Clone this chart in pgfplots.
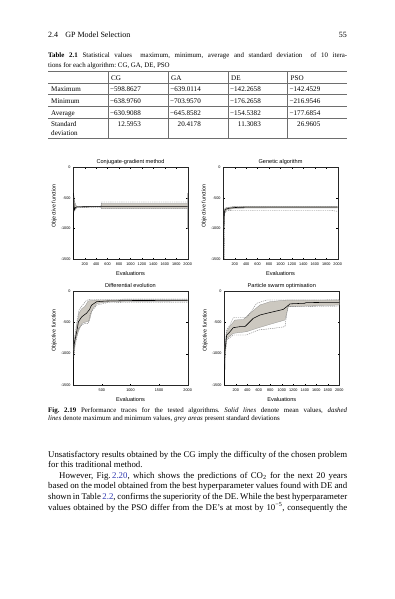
\documentclass[border=0pt]{standalone}
\usepackage{pgfplots}
\pgfplotsset{compat=1.18}
\usepgfplotslibrary{fillbetween}
\usepackage{fontspec}
\setmainfont{Liberation Serif}
\newfontfamily\plotfont{Liberation Sans}
\definecolor{linkblue}{RGB}{45,55,175}
\definecolor{bandgray}{RGB}{204,200,192}
\definecolor{rulegray}{RGB}{110,110,110}

\tikzset{
  meanl/.style={black, line width=0.55pt},
  maxl/.style={black!55, dash pattern=on 1.3pt off 0.9pt, line width=0.35pt},
  bandedge/.style={black!45, line width=0.25pt},
}
\pgfplotsset{mplot/.style={
  scale only axis, width=114.4pt, height=92pt, anchor=south west,
  xmin=0, xmax=2000, ymin=-1500, ymax=0,
  ytick={-1500,-1000,-500,0},
  tick align=inside, xtick pos=both, ytick pos=both,
  major tick length=1.4pt,
  tick style={line width=0.3pt, black},
  axis line style={line width=0.4pt, black!85},
  tick label style={font=\plotfont\fontsize{3.8}{4}\selectfont},
  /pgf/number format/assume math mode=true,
  /pgf/number format/set thousands separator={},
  xticklabel style={inner sep=0pt, yshift=-3.2pt},
  yticklabel style={inner sep=0pt, xshift=-2.6pt},
  title style={font=\plotfont\fontsize{5.6}{6}\selectfont, at={(axis description cs:0.5,1)}, anchor=base, yshift=-2.2pt},
  xlabel={Evaluations}, ylabel={Objective function},
  xlabel style={font=\plotfont\fontsize{5.6}{6}\selectfont, at={(axis description cs:0.5,0)}, anchor=center, yshift=-14.5pt},
  ylabel style={font=\plotfont\fontsize{5.4}{6}\selectfont, at={(axis description cs:-0.166,0.58)}, anchor=center},
  no marks,
}}

\begin{document}
\frenchspacing
\begin{tikzpicture}[x=1pt,y=1pt]
\path (0pt,0pt) rectangle (395pt,-599pt);

% running head
\node[anchor=base west, inner sep=0, font=\fontsize{8}{9.6}\selectfont] at (48pt,-37.5pt) {2.4\hspace{0.9em}GP Model Selection};
\node[anchor=base east, inner sep=0, font=\fontsize{8}{9.6}\selectfont] at (347pt,-37.5pt) {55};

% table caption
\node[anchor=base west, inner sep=0, font=\fontsize{6.9}{8}\selectfont] at (48pt,-58pt) {\makebox[299pt][s]{\textbf{Table 2.1}\hspace{0.7em}Statistical values\hspace{1.2em}maximum, minimum, average and standard deviation\hspace{1.2em}of 10 itera-}};
\node[anchor=base west, inner sep=0, font=\fontsize{6.9}{8}\selectfont] at (48pt,-67.5pt) {tions for each algorithm: CG, GA, DE, PSO};

% table rules
\foreach \yy in {71.2,83,94.7,106.7,118,138}{
  \draw[rulegray, line width=0.55pt] (48pt,-\yy pt) -- (347pt,-\yy pt);
}
\foreach \xx in {108,168,228,287.5}{
  \draw[rulegray, line width=0.55pt] (\xx pt,-71.2pt) -- (\xx pt,-138pt);
}
\begin{scope}[every node/.style={inner sep=0, font=\fontsize{7.1}{8.5}\selectfont}]
\node[anchor=base west] at (111pt,-80.5pt) {CG};
\node[anchor=base west] at (171pt,-80.5pt) {GA};
\node[anchor=base west] at (231pt,-80.5pt) {DE};
\node[anchor=base west] at (290.5pt,-80.5pt) {PSO};
\node[anchor=base west] at (51pt,-92pt) {Maximum};
\node[anchor=base west] at (51pt,-103.7pt) {Minimum};
\node[anchor=base west] at (51pt,-115pt) {Average};
\node[anchor=base west] at (51pt,-127pt) {Standard};
\node[anchor=base west] at (51pt,-135.5pt) {deviation};
% values
\node[anchor=base east] at (141pt,-92pt) {−598.8627};
\node[anchor=base east] at (201pt,-92pt) {−639.0114};
\node[anchor=base east] at (261pt,-92pt) {−142.2658};
\node[anchor=base east] at (320.5pt,-92pt) {−142.4529};
\node[anchor=base east] at (141pt,-103.7pt) {−638.9760};
\node[anchor=base east] at (201pt,-103.7pt) {−703.9570};
\node[anchor=base east] at (261pt,-103.7pt) {−176.2658};
\node[anchor=base east] at (320.5pt,-103.7pt) {−216.9546};
\node[anchor=base east] at (141pt,-115pt) {−630.9088};
\node[anchor=base east] at (201pt,-115pt) {−645.8582};
\node[anchor=base east] at (261pt,-115pt) {−154.5382};
\node[anchor=base east] at (320.5pt,-115pt) {−177.6854};
\node[anchor=base east] at (141pt,-127pt) {12.5953};
\node[anchor=base east] at (201pt,-127pt) {20.4178};
\node[anchor=base east] at (261pt,-127pt) {11.3083};
\node[anchor=base east] at (320.5pt,-127pt) {26.9605};
\end{scope}

% ---------------- Plot 1: CG
\begin{axis}[mplot, at={(73.3pt,-259.3pt)}, title={Conjugate-gradient method}, xtick={200,400,...,2000}]
\addplot[draw=none, name path=u] coordinates {(6,-480) (20,-560) (40,-620) (60,-638) (485,-640) (490,-587) (2000,-587)};
\addplot[draw=none, name path=l] coordinates {(6,-720) (20,-700) (40,-675) (60,-650) (485,-646) (490,-668) (2000,-668)};
\addplot[bandgray] fill between[of=u and l];
\addplot[bandedge] coordinates {(6,-480) (20,-560) (40,-620) (60,-638) (485,-640) (490,-587) (2000,-587)};
\addplot[bandedge] coordinates {(6,-720) (20,-700) (40,-675) (60,-650) (485,-646) (490,-668) (2000,-668)};
\addplot[maxl] coordinates {(6,-470) (20,-545) (40,-610) (60,-636) (485,-638) (490,-566) (2000,-566)};
\addplot[maxl] coordinates {(8,-740) (20,-712) (40,-685) (60,-655) (485,-650) (490,-676) (2000,-676)};
\addplot[black!40, line width=0.6pt] coordinates {(2000,-420) (2000,-1000)};
\addplot[meanl] coordinates {(0,-1500) (4,-1500) (6,-420) (12,-600) (20,-690) (35,-660) (60,-645) (200,-643) (490,-642) (2000,-642)};
\end{axis}

% ---------------- Plot 2: GA
\begin{axis}[mplot, at={(223.3pt,-259.3pt)}, title={Genetic algorithm}, xtick={200,400,...,2000}]
\addplot[draw=none, name path=u] coordinates {(12,-850) (18,-700) (30,-670) (50,-660) (100,-652) (200,-640) (400,-638) (2000,-636)};
\addplot[draw=none, name path=l] coordinates {(12,-1000) (18,-780) (30,-730) (50,-700) (100,-685) (200,-672) (400,-664) (2000,-662)};
\addplot[bandgray] fill between[of=u and l];
\addplot[bandedge] coordinates {(12,-850) (18,-700) (30,-670) (50,-660) (100,-652) (200,-640) (400,-638) (2000,-636)};
\addplot[bandedge] coordinates {(12,-1000) (18,-780) (30,-730) (50,-700) (100,-685) (200,-672) (400,-664) (2000,-662)};
\addplot[maxl] coordinates {(12,-800) (20,-690) (40,-665) (100,-650) (200,-640) (2000,-638)};
\addplot[maxl] coordinates {(15,-1500) (25,-760) (40,-720) (80,-706) (200,-705) (1900,-705) (2000,-718)};
\addplot[meanl] coordinates {(0,-1500) (8,-1500) (12,-900) (18,-740) (30,-700) (50,-680) (100,-668) (200,-656) (400,-650) (2000,-648)};
\end{axis}

% ---------------- Plot 3: DE
\begin{axis}[mplot, at={(73.3pt,-385pt)}, height=94pt, title={Differential evolution}, xtick={500,1000,1500,2000}]
\addplot[draw=none, name path=u] coordinates {(5,-950) (30,-720) (60,-560) (100,-350) (150,-280) (200,-250) (260,-160) (320,-150) (410,-145) (1000,-140) (2000,-140)};
\addplot[draw=none, name path=l] coordinates {(5,-1050) (30,-830) (60,-720) (100,-620) (150,-520) (200,-500) (280,-480) (330,-300) (410,-200) (600,-175) (1000,-165) (2000,-160)};
\addplot[bandgray] fill between[of=u and l];
\addplot[bandedge] coordinates {(5,-950) (30,-720) (60,-560) (100,-350) (150,-280) (200,-250) (260,-160) (320,-150) (410,-145) (1000,-140) (2000,-140)};
\addplot[bandedge] coordinates {(5,-1050) (30,-830) (60,-720) (100,-620) (150,-520) (200,-500) (280,-480) (330,-300) (410,-200) (600,-175) (1000,-165) (2000,-160)};
\addplot[maxl] coordinates {(5,-900) (30,-700) (60,-500) (100,-300) (150,-240) (230,-150) (300,-132) (1000,-130) (2000,-130)};
\addplot[maxl] coordinates {(5,-1100) (30,-880) (60,-750) (90,-600) (150,-540) (200,-520) (260,-520) (300,-350) (410,-225) (600,-185) (1000,-178) (2000,-178)};
\addplot[meanl] coordinates {(0,-1500) (3,-1500) (5,-1000) (15,-850) (30,-780) (60,-650) (90,-490) (150,-410) (230,-356) (280,-300) (320,-225) (410,-170) (580,-160) (1000,-152) (2000,-150)};
\end{axis}

% ---------------- Plot 4: PSO
\begin{axis}[mplot, at={(224.3pt,-385pt)}, width=115pt, height=94pt, title={Particle swarm optimisation}, xtick={200,400,...,2000}]
\addplot[draw=none, name path=u] coordinates {(10,-900) (41,-650) (99,-560) (186,-463) (330,-455) (446,-356) (620,-223) (794,-170) (1084,-144) (2000,-144)};
\addplot[draw=none, name path=l] coordinates {(10,-1050) (41,-760) (157,-676) (388,-649) (562,-596) (794,-532) (1055,-463) (1113,-250) (2000,-223)};
\addplot[bandgray] fill between[of=u and l];
\addplot[bandedge] coordinates {(10,-900) (41,-650) (99,-560) (186,-463) (330,-455) (446,-356) (620,-223) (794,-170) (1084,-144) (2000,-144)};
\addplot[bandedge] coordinates {(10,-1050) (41,-760) (157,-676) (388,-649) (562,-596) (794,-532) (1055,-463) (1113,-250) (2000,-223)};
\addplot[maxl] coordinates {(10,-850) (41,-620) (99,-543) (157,-426) (388,-426) (446,-356) (562,-197) (736,-144) (2000,-142)};
\addplot[maxl] coordinates {(10,-1100) (41,-782) (157,-702) (388,-702) (591,-622) (852,-596) (1055,-569) (1096,-303) (1113,-250) (2000,-240)};
\addplot[meanl] coordinates {(0,-1500) (5,-1500) (10,-970) (41,-702) (99,-649) (157,-585) (272,-569) (359,-569) (417,-516) (504,-436) (620,-383) (736,-356) (910,-319) (1026,-293) (1100,-240) (1140,-205) (1400,-195) (1420,-185) (2000,-180)};
\end{axis}

% figure caption
\node[anchor=base west, inner sep=0, font=\fontsize{6.9}{8}\selectfont] at (48pt,-412pt) {\makebox[299pt][s]{\textbf{Fig. 2.19}\hspace{0.7em}Performance traces for the tested algorithms. \textit{Solid lines} denote mean values, \textit{dashed}}};
\node[anchor=base west, inner sep=0, font=\fontsize{6.9}{8}\selectfont] at (48pt,-420.5pt) {\textit{lines} denote maximum and minimum values, \textit{grey areas} present standard deviations};

% body text
\begin{scope}[every node/.style={anchor=base west, inner sep=0, font=\fontsize{8.8}{10.6}\selectfont}]
\node at (48pt,-457pt) {\makebox[299pt][s]{Unsatisfactory results obtained by the CG imply the difficulty of the chosen problem}};
\node at (48pt,-467.6pt) {for this traditional method.};
\node at (48pt,-478.2pt) {\makebox[299pt][s]{\hspace{11pt}However, Fig.\,\textcolor{linkblue}{2.20}, which shows the predictions of CO\textsubscript{2} for the next 20 years}};
\node at (48pt,-488.8pt) {\makebox[299pt][s]{based on the model obtained from the best hyperparameter values found with DE and}};
\node at (48pt,-499.4pt) {\makebox[299pt][s]{shown in Table\,\textcolor{linkblue}{2.2}, confirms the superiority of the DE. While the best hyperparameter}};
\node at (48pt,-510pt) {\makebox[299pt][s]{values obtained by the PSO differ from the DE's at most by 10\textsuperscript{−5}, consequently the}};
\end{scope}
\end{tikzpicture}
\end{document}
